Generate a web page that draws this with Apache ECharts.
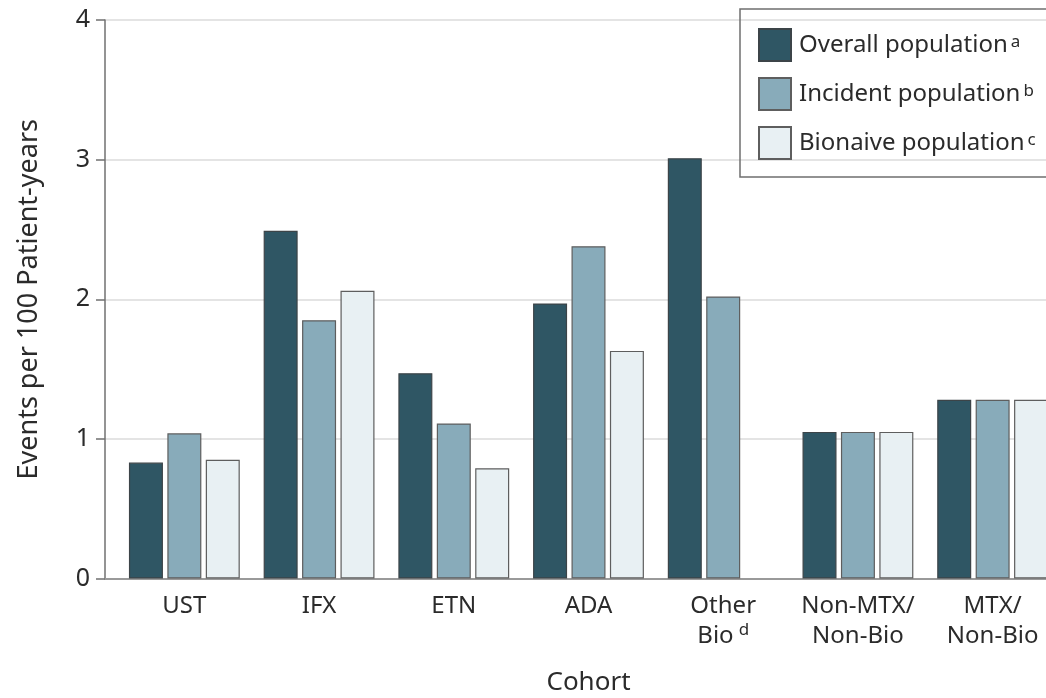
<!DOCTYPE html>
<html>
<head>
<meta charset="utf-8">
<script src="https://cdn.jsdelivr.net/npm/echarts@6/dist/echarts.min.js"></script>
<style>
  html, body { margin: 0; padding: 0; background: #ffffff; }
  #chart { width: 1046px; height: 698px; }
</style>
</head>
<body>
<div id="chart"></div>
<script>
// Cohorts on the x axis ({s|...} marks a footnote superscript)
const cohorts = ['UST', 'IFX', 'ETN', 'ADA', 'Other\nBio{s|d}', 'Non-MTX/\nNon-Bio', 'MTX/\nNon-Bio'];

// Events per 100 patient-years, one array per population
const overall  = [0.83, 2.49, 1.47, 1.97, 3.01, 1.05, 1.28];
const incident = [1.04, 1.85, 1.11, 2.38, 2.02, 1.05, 1.28];
const bionaive = [0.85, 2.06, 0.79, 1.63, null, 1.05, 1.28];

const seriesNames = ['Overall population', 'Incident population', 'Bionaive population'];
const seriesNotes = ['a', 'b', 'c'];
const seriesColors = ['#2f5664', '#88abba', '#e8f0f3'];

// Y axis tick values
const yTicks = [0, 1, 2, 3, 4];

const FONT = '"Noto Sans", "Liberation Sans", sans-serif';
const TEXT = '#2b2b2b';
const yMin = yTicks[0];
const yMax = yTicks[yTicks.length - 1];
const yStep = yTicks[1] - yTicks[0];

const supStyle = { fontSize: 17, verticalAlign: 'top', color: TEXT, fontFamily: FONT, padding: [0, 0, 0, 5] };
const legendSup = { fontSize: 17, verticalAlign: 'top', color: TEXT, fontFamily: FONT, padding: [1, 0, 0, 3] };

const chart = echarts.init(document.getElementById('chart'), null, { renderer: 'canvas' });

const noteOf = {};
seriesNames.forEach((n, i) => { noteOf[n] = seriesNotes[i]; });

const option = {
  animation: false,
  backgroundColor: '#ffffff',
  textStyle: { fontFamily: FONT, color: TEXT },
  grid: [
    // grid 0 holds the bars (category bands)
    { left: 117, top: 20, width: 943, bottom: 119.5, containLabel: false, outerBoundsMode: 'none' },
    // grid 1 holds the value axis, gridlines and baseline
    { left: 105, top: 20, right: 0, bottom: 119.5, containLabel: false, outerBoundsMode: 'none' }
  ],
  legend: {
    orient: 'vertical',
    left: 740,
    top: 9,
    padding: [19, 22, 17, 18],
    itemWidth: 32,
    itemHeight: 32,
    itemGap: 15,
    borderColor: '#6f6f6f',
    borderWidth: 1.5,
    selectedMode: false,
    icon: 'rect',
    data: seriesNames,
    formatter: name => name + '{s|' + noteOf[name] + '}',
    textStyle: {
      fontSize: 24,
      color: TEXT,
      fontFamily: FONT,
      padding: [0, 0, 0, 3],
      rich: { s: legendSup }
    }
  },
  xAxis: [
    {
      type: 'category',
      gridIndex: 0,
      data: cohorts,
      boundaryGap: true,
      axisLine: { show: false },
      axisTick: { show: false },
      axisLabel: {
        interval: 0,
        margin: 13,
        fontSize: 24,
        lineHeight: 30,
        color: TEXT,
        fontFamily: FONT,
        rich: { s: supStyle }
      },
      name: 'Cohort',
      nameLocation: 'middle',
      nameGap: 91,
      nameTextStyle: { fontSize: 26, color: TEXT, fontFamily: FONT }
    },
    {
      type: 'value',
      gridIndex: 1,
      min: 0,
      max: 1,
      axisLine: { show: true, onZero: false, lineStyle: { color: '#9a9a9a', width: 2 } },
      axisTick: { show: false },
      axisLabel: { show: false },
      splitLine: { show: false }
    }
  ],
  yAxis: [
    {
      type: 'value',
      gridIndex: 0,
      min: yMin,
      max: yMax,
      interval: yStep,
      show: false
    },
    {
      type: 'value',
      gridIndex: 1,
      min: yMin,
      max: yMax,
      interval: yStep,
      axisLine: { show: true, lineStyle: { color: '#707070', width: 1.5 } },
      axisTick: { show: true, length: 9, lineStyle: { color: '#707070', width: 1.5 } },
      axisLabel: { fontSize: 25, color: TEXT, fontFamily: FONT, margin: 15 },
      splitLine: { show: true, lineStyle: { color: '#e4e4e4', width: 2 } },
      name: 'Events per 100 Patient-years',
      nameLocation: 'middle',
      nameGap: 62,
      nameTextStyle: { fontSize: 27, color: TEXT, fontFamily: FONT }
    }
  ],
  series: [overall, incident, bionaive].map((vals, i) => ({
    name: seriesNames[i],
    type: 'bar',
    xAxisIndex: 0,
    yAxisIndex: 0,
    barWidth: 34,
    barGap: '13%',
    data: vals.map(v => (v === null ? '-' : v)),
    itemStyle: {
      color: seriesColors[i],
      borderColor: i === 0 ? '#3c4448' : '#5e5e5e',
      borderWidth: 1.2
    },
    emphasis: { disabled: true }
  }))
};

chart.setOption(option);
</script>
</body>
</html>
